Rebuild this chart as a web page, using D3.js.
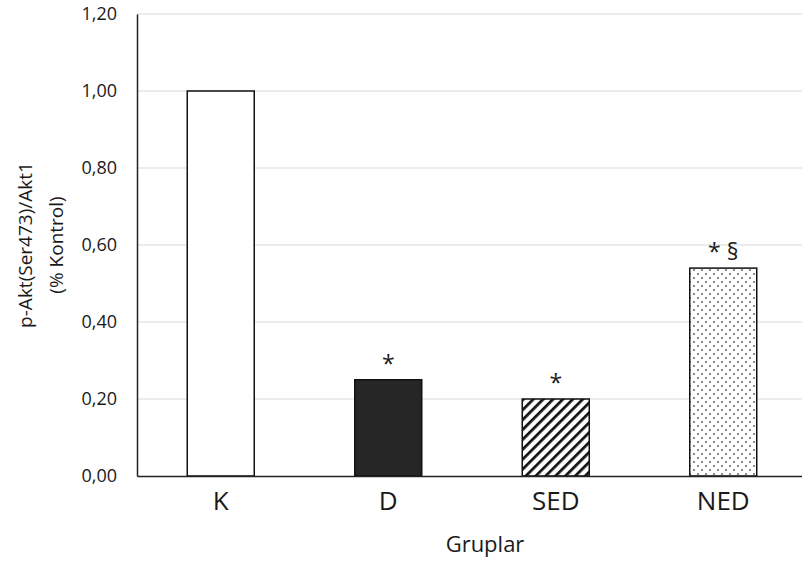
<!DOCTYPE html>
<html>
<head>
<meta charset="utf-8">
<script src="https://cdn.jsdelivr.net/npm/d3@7.9.0/dist/d3.min.js"></script>
<style>
  body { margin: 0; background: #fff; }
  text { font-family: "Open Sans", "DejaVu Sans", sans-serif; fill: #1a1a1a; }
</style>
</head>
<body>
<svg id="chart" width="802" height="565"></svg>
<script>
// data
const groups = ["K", "D", "SED", "NED"];
const values = [1.00, 0.25, 0.20, 0.54];
const marks = ["", "*", "*", "* §"];
const fills = ["white", "#262626", "url(#hatch)", "url(#dots)"];
const yTicks = [0, 0.2, 0.4, 0.6, 0.8, 1.0, 1.2];

const svg = d3.select("#chart");

// plot area
const plotLeft = 137, plotRight = 807, plotTop = 14, plotBottom = 476;
const fontFam = "'Open Sans', 'DejaVu Sans', sans-serif";

// patterns
const defs = svg.append("defs");
let hatch = defs.append("pattern")
    .attr("id", "hatch")
    .attr("patternUnits", "userSpaceOnUse")
    .attr("width", 7).attr("height", 7)
    .attr("patternTransform", "rotate(45)");
hatch.append("rect").attr("width", 7).attr("height", 7).attr("fill", "white");
hatch.append("line")
    .attr("x1", 0).attr("y1", 0).attr("x2", 0).attr("y2", 7)
    .attr("stroke", "#111").attr("stroke-width", 5.5);

let dots = defs.append("pattern")
    .attr("id", "dots")
    .attr("patternUnits", "userSpaceOnUse")
    .attr("width", 8).attr("height", 8);
dots.append("rect").attr("width", 8).attr("height", 8).attr("fill", "white");
dots.append("rect").attr("x", 1).attr("y", 1).attr("width", 2).attr("height", 2).attr("fill", "#8a8a8a");
dots.append("rect").attr("x", 5).attr("y", 5).attr("width", 2).attr("height", 2).attr("fill", "#8a8a8a");

// scales
const x = d3.scaleBand()
    .domain(groups)
    .range([plotLeft, plotRight])
    .paddingInner(0.6)
    .paddingOuter(0.3);

const y = d3.scaleLinear()
    .domain([0, 1.2])
    .range([plotBottom, plotTop]);

const fmt = d => d.toFixed(2).replace(".", ",");

// gridlines
svg.append("g")
    .selectAll("line")
    .data(yTicks.filter(d => d > 0))
    .join("line")
    .attr("x1", plotLeft).attr("x2", plotRight)
    .attr("y1", d => y(d)).attr("y2", d => y(d))
    .attr("stroke", "#d9d9d9")
    .attr("stroke-width", 1.2);

// y axis
const yAxis = svg.append("g")
    .attr("transform", `translate(${plotLeft},0)`)
    .call(d3.axisLeft(y).tickValues(yTicks).tickFormat(fmt).tickSize(0).tickPadding(20));
yAxis.select(".domain").attr("stroke", "#222").attr("stroke-width", 1.5);
yAxis.selectAll("text")
    .style("font-family", fontFam)
    .style("font-size", "18px")
    .attr("fill", "#1a1a1a");

// bars
svg.append("g")
    .selectAll("rect")
    .data(groups)
    .join("rect")
    .attr("x", d => x(d))
    .attr("y", (d, i) => y(values[i]))
    .attr("width", x.bandwidth())
    .attr("height", (d, i) => y(0) - y(values[i]))
    .attr("fill", (d, i) => fills[i])
    .attr("stroke", "#111")
    .attr("stroke-width", 1.5);

// x axis
const xAxis = svg.append("g")
    .attr("transform", `translate(0,${plotBottom})`)
    .call(d3.axisBottom(x).tickSize(0).tickPadding(16));
xAxis.select(".domain").attr("stroke", "#222").attr("stroke-width", 1.5);
xAxis.selectAll("text")
    .style("font-family", fontFam)
    .style("font-size", "26px")
    .attr("fill", "#111");

// significance marks
svg.append("g")
    .selectAll("text")
    .data(groups)
    .join("text")
    .attr("x", d => x(d) + x.bandwidth() / 2)
    .attr("y", (d, i) => y(values[i]) - 8)
    .attr("text-anchor", "middle")
    .style("font-size", "23px")
    .text((d, i) => marks[i]);

// axis titles
svg.append("text")
    .attr("x", 485)
    .attr("y", 552)
    .attr("text-anchor", "middle")
    .style("font-size", "22px")
    .text("Gruplar");

const yTitle = svg.append("text")
    .attr("transform", `translate(32,${(plotTop + plotBottom) / 2}) rotate(-90)`)
    .attr("text-anchor", "middle")
    .style("font-size", "19px");
yTitle.append("tspan").attr("x", 0).attr("dy", 0).text("p-Akt(Ser473)/Akt1");
yTitle.append("tspan").attr("x", 0).attr("dy", 31).text("(% Kontrol)");
</script>
</body>
</html>
